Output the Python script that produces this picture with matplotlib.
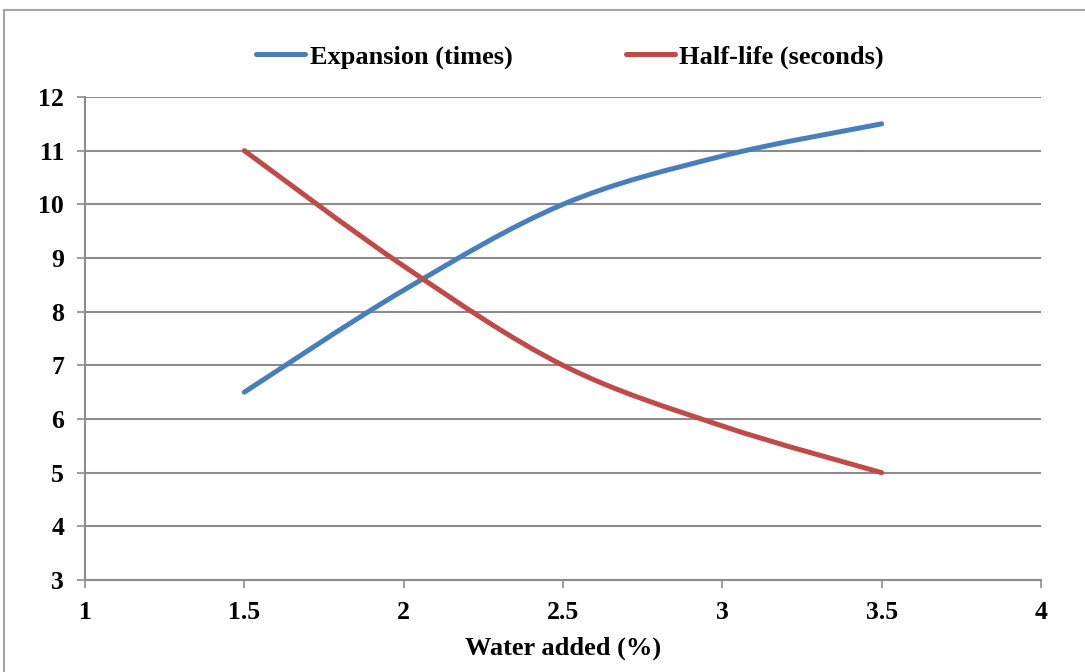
import matplotlib.pyplot as plt
import numpy as np
from matplotlib.path import Path
from matplotlib.patches import PathPatch, Rectangle
from matplotlib.lines import Line2D

water = [1.5, 2.0, 2.5, 3.0, 3.5]
expansion = [6.5, 8.4, 10.0, 10.9, 11.5]
half_life = [11.0, 8.85, 7.0, 5.87, 5.0]
x_ticks = [1, 1.5, 2, 2.5, 3, 3.5, 4]
y_ticks = [3, 4, 5, 6, 7, 8, 9, 10, 11, 12]

blue = '#4A7EBB'
red = '#BE4B48'
grid_gray = '#8C8C8C'

plt.rcParams['font.family'] = ['Liberation Serif', 'DejaVu Serif']
plt.rcParams['font.weight'] = 'bold'


def smooth_path(x, y, t=1/6):
    # Excel-like smoothed line: cubic Bezier through each point
    x = np.asarray(x, float)
    y = np.asarray(y, float)
    n = len(x)
    verts = [(x[0], y[0])]
    codes = [Path.MOVETO]
    for i in range(n - 1):
        p0 = np.array([x[max(i - 1, 0)], y[max(i - 1, 0)]])
        p1 = np.array([x[i], y[i]])
        p2 = np.array([x[i + 1], y[i + 1]])
        p3 = np.array([x[min(i + 2, n - 1)], y[min(i + 2, n - 1)]])
        c1 = p1 + (p2 - p0) * t
        c2 = p2 - (p3 - p1) * t
        verts += [tuple(c1), tuple(c2), tuple(p2)]
        codes += [Path.CURVE4] * 3
    return Path(verts, codes)


fig = plt.figure(figsize=(10.85, 6.72), dpi=100)
fig.patches.append(Rectangle((4 / 1085, -0.05), 1.1, 1 - 10 / 672 + 0.05,
                             transform=fig.transFigure, fill=False,
                             edgecolor='#A6A6A6', lw=1.5))

ax = fig.add_axes([85 / 1085, 1 - 580 / 672, (1041 - 85) / 1085, (580 - 97) / 672])

for yy, col in [(expansion, blue), (half_life, red)]:
    ax.add_patch(PathPatch(smooth_path(water, yy), facecolor='none',
                           edgecolor=col, lw=3.6, capstyle='round', zorder=3))

ax.set_xlim(1, 4)
ax.set_ylim(3, 12)
ax.set_xticks(x_ticks)
ax.set_xticklabels(['1', '1.5', '2', '2.5', '3', '3.5', '4'])
ax.set_yticks(y_ticks)
ax.yaxis.grid(True, color=grid_gray, lw=1.5)
ax.set_axisbelow(True)
for s in ['top', 'right']:
    ax.spines[s].set_visible(False)
for s in ['left', 'bottom']:
    ax.spines[s].set_color(grid_gray)
    ax.spines[s].set_linewidth(1.5)
ax.tick_params(axis='both', colors=grid_gray, width=1.2, length=6,
               labelcolor='black', labelsize=18.5)
ax.tick_params(axis='x', pad=9)
ax.tick_params(axis='y', pad=9)
ax.set_xlabel('Water added (%)', fontsize=19, fontweight='bold', labelpad=9)

handles = [Line2D([], [], color=blue, lw=3.6, solid_capstyle='round'),
           Line2D([], [], color=red, lw=3.6, solid_capstyle='round')]
fig.legend(handles, ['Expansion (times)', 'Half-life (seconds)'],
           loc='center', bbox_to_anchor=(570 / 1085, 1 - 57 / 672), ncol=2,
           frameon=False, fontsize=19, handlelength=1.85, handletextpad=0.18,
           columnspacing=4.3)

fig.savefig('out.png', dpi=100)
